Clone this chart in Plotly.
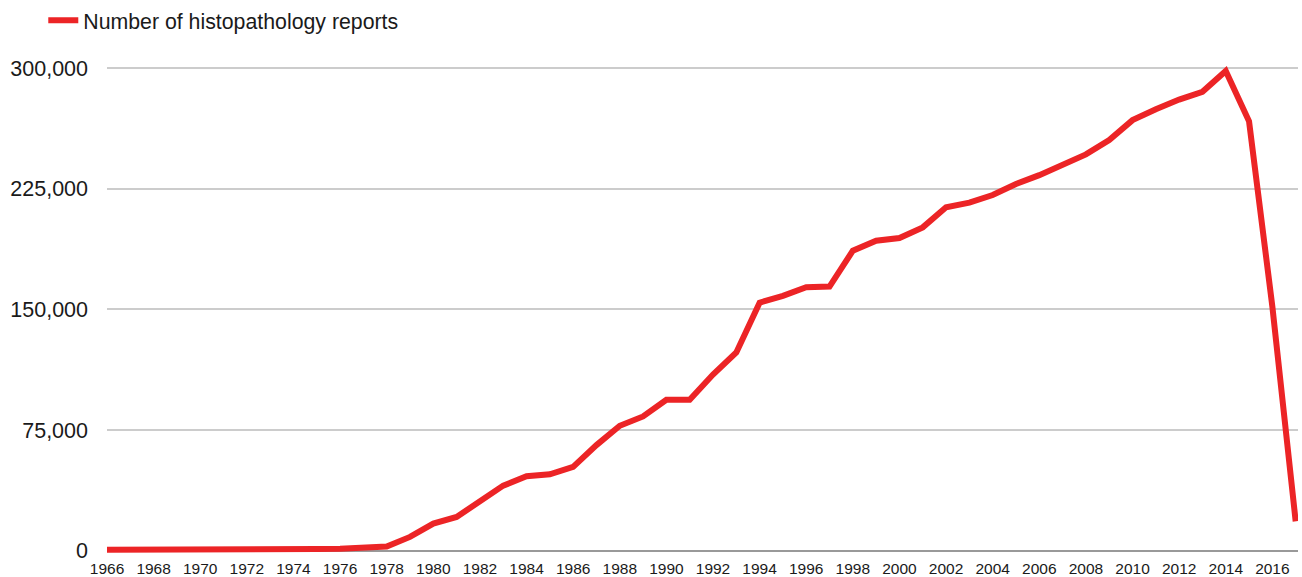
import plotly.graph_objects as go

years = list(range(1966, 2018))
reports = [
    500, 450, 400, 450, 400, 500, 600, 700, 800, 900, 1200, 1600,
    2500, 8500, 16800, 20900, 31000, 40400, 46200, 47400, 52000, 65600,
    77600, 83400, 93800, 93800, 109500, 123200, 154200, 158400, 163800,
    164200, 186500, 192700, 194400, 201000, 213500, 216400, 221100,
    228000, 233500, 240200, 246400, 255300, 267700, 274500, 280500,
    285300, 298300, 267000, 151700, 18200,
]
series_name = "Number of histopathology reports"
y_ticks = [0, 75000, 150000, 225000, 300000]
x_ticks = list(range(1966, 2018, 2))

fig = go.Figure()
fig.add_trace(go.Scatter(
    x=years, y=reports, mode="lines", name=series_name,
    line=dict(color="#ec2426", width=6),
))

font_family = "Liberation Sans, Arial, sans-serif"
fig.update_layout(
    width=1302, height=577,
    margin=dict(l=107, r=4, t=65, b=20, autoexpand=False),
    paper_bgcolor="white", plot_bgcolor="white",
    font=dict(family=font_family, color="#1a1a1a"),
    showlegend=True,
    legend=dict(
        orientation="h", x=-0.0535, xanchor="left", y=1.0, yanchor="top",
        yref="container", font=dict(size=21.3, family=font_family, color="#1a1a1a"),
        itemwidth=30, bgcolor="rgba(0,0,0,0)",
    ),
    xaxis=dict(
        range=[1966, 2017.1], tickmode="array", tickvals=x_ticks,
        showgrid=False, zeroline=False, showline=False, automargin=False,
        tickfont=dict(size=15.5), ticks="", ticklabelstandoff=0,
    ),
    yaxis=dict(
        range=[-4000, 302000], tickmode="array", tickvals=y_ticks,
        tickformat=",", showgrid=True, gridcolor="#cccccc", gridwidth=2,
        zeroline=True, zerolinecolor="#999999", zerolinewidth=2,
        showline=False, tickfont=dict(size=21.5), ticks="", automargin=False,
        ticklabelstandoff=18,
    ),
)
fig.write_html(
    "out.html",
    config={"displayModeBar": False},
    post_script="document.body.style.margin='0';document.body.style.overflow='hidden';",
)
